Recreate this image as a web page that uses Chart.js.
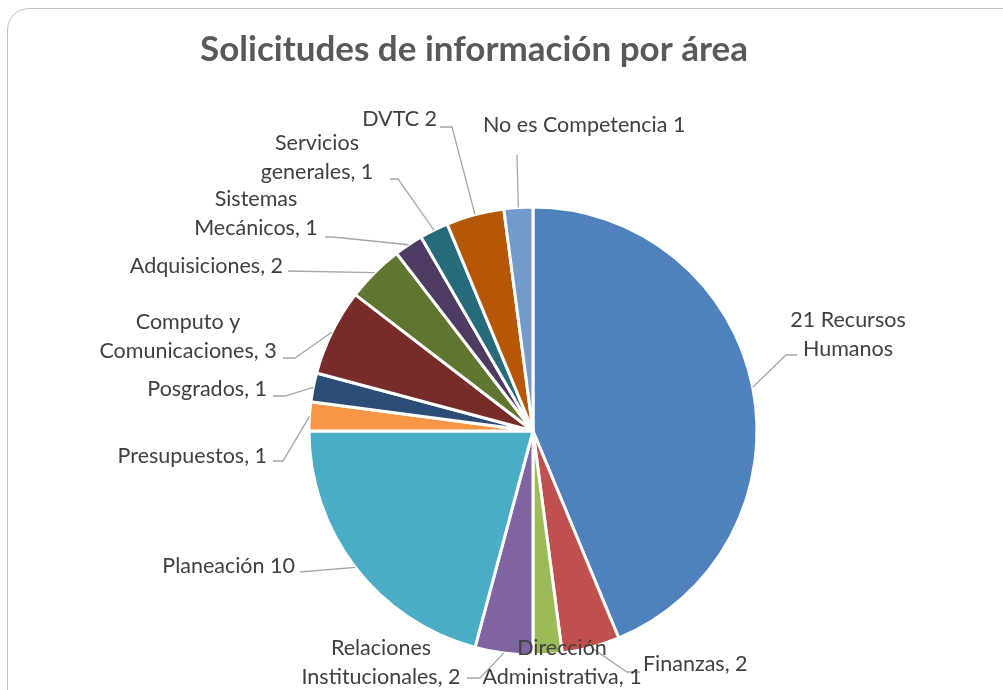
<!DOCTYPE html>
<html>
<head>
<meta charset="utf-8">
<script src="https://cdn.jsdelivr.net/npm/chart.js@4/dist/chart.umd.min.js"></script>
<style>
  html, body { margin: 0; padding: 0; background: #fff; overflow: hidden; }
  #card {
    position: absolute; left: 7px; top: 8px; width: 1020px; height: 720px;
    border: 1.5px solid #c4c4c4; border-radius: 22px; background: #fff;
  }
  #wrap { position: absolute; left: 0; top: 0; width: 1003px; height: 690px; }
</style>
</head>
<body>
<div id="card"></div>
<div id="wrap"><canvas id="pie-chart" width="1003" height="690"></canvas></div>
<script>
// data, clockwise from 12 o'clock
const categories = [
    'Recursos Humanos', 'Finanzas', 'Dirección Administrativa', 'Relaciones Institucionales',
    'Planeación', 'Presupuestos', 'Posgrados', 'Computo y Comunicaciones',
    'Adquisiciones', 'Sistemas Mecánicos', 'Servicios generales', 'DVTC', 'No es Competencia'
];
const values = [21, 2, 1, 2, 10, 1, 1, 3, 2, 1, 1, 2, 1];
const sliceColors = [
    '#4F81BD', '#C0504D', '#9BBB59', '#8064A2', '#4BACC6', '#F79646', '#2C4D75',
    '#772C2A', '#5F7530', '#4D3B62', '#276A7C', '#B65708', '#729ACA'
];
// label text, {v} is replaced with the value
const labelLines = [
    ['{v} Recursos', 'Humanos'],
    ['Finanzas, {v}'],
    ['Dirección', 'Administrativa, {v}'],
    ['Relaciones', 'Institucionales, {v}'],
    ['Planeación {v}'],
    ['Presupuestos, {v}'],
    ['Posgrados, {v}'],
    ['Computo y', 'Comunicaciones, {v}'],
    ['Adquisiciones, {v}'],
    ['Sistemas', 'Mecánicos, {v}'],
    ['Servicios', 'generales, {v}'],
    ['DVTC {v}'],
    ['No es Competencia {v}']
];

// where each label sits and where its leader line bends
const labelPlace = [
    { x: 848, y: 320, align: 'center', elbow: [786, 355], end: [797, 355] },
    { x: 643, y: 664, align: 'left', elbow: [627, 672], end: [640, 672] },
    { x: 562, y: 648, align: 'center', elbow: null },
    { x: 381, y: 648, align: 'center', elbow: [480, 678], end: [467, 678] },
    { x: 295, y: 566, align: 'right', elbow: [300, 572], end: [300, 572] },
    { x: 267, y: 456, align: 'right', elbow: [283, 461], end: [273, 461] },
    { x: 267, y: 389, align: 'right', elbow: [285, 396], end: [273, 396] },
    { x: 188, y: 322, align: 'center', elbow: [295, 358], end: [283, 358] },
    { x: 283, y: 266, align: 'right', elbow: [288, 271], end: [288, 271] },
    { x: 256, y: 199, align: 'center', elbow: [333, 237], end: [325, 237] },
    { x: 317, y: 143, align: 'center', elbow: [398, 179], end: [390, 179] },
    { x: 437, y: 119, align: 'right', elbow: [452, 127], end: [440, 127] },
    { x: 483, y: 125, align: 'left', elbow: [517, 155], end: [517, 155] }
];

const labelFont = '21.5px Lato';
const lineGap = 29;

const pieLabels = {
    id: 'pieLabels',
    afterDraw(chart) {
        const ctx = chart.ctx;
        const arcs = chart.getDatasetMeta(0).data;
        ctx.save();

        // title
        ctx.fillStyle = '#595959';
        ctx.font = 'bold 35px Lato';
        ctx.textAlign = 'center';
        ctx.textBaseline = 'middle';
        ctx.fillText('Solicitudes de información por área', 474, 50);

        // leader lines
        ctx.strokeStyle = '#a6a6a6';
        ctx.lineWidth = 1.3;
        arcs.forEach((arc, i) => {
            const p = labelPlace[i];
            if (!p.elbow) return;
            const a = arc.getProps(['x', 'y', 'startAngle', 'endAngle', 'outerRadius'], true);
            const mid = (a.startAngle + a.endAngle) / 2;
            const sx = a.x + Math.cos(mid) * a.outerRadius;
            const sy = a.y + Math.sin(mid) * a.outerRadius;
            ctx.beginPath();
            ctx.moveTo(sx, sy);
            ctx.lineTo(p.elbow[0], p.elbow[1]);
            ctx.lineTo(p.end[0], p.end[1]);
            ctx.stroke();
        });

        // label text
        ctx.fillStyle = '#404040';
        ctx.font = labelFont;
        labelLines.forEach((lines, i) => {
            const p = labelPlace[i];
            ctx.textAlign = p.align;
            lines.forEach((t, k) => {
                ctx.fillText(t.replace('{v}', values[i]), p.x, p.y + k * lineGap);
            });
        });
        ctx.restore();
    }
};

const pie = document.getElementById('pie-chart').getContext('2d');
const pieChart = new Chart(pie, {
    type: 'pie',
    data: {
        labels: categories,
        datasets: [{
            data: values,
            backgroundColor: sliceColors,
            borderColor: '#ffffff',
            borderWidth: 3,
            radius: 224
        }]
    },
    options: {
        responsive: false,
        animation: false,
        events: [],
        layout: { padding: { left: 309, right: 246, top: 207, bottom: 35 } },
        plugins: {
            legend: { display: false },
            title: { display: false },
            tooltip: { enabled: false }
        }
    },
    plugins: [pieLabels]
});
</script>
</body>
</html>
